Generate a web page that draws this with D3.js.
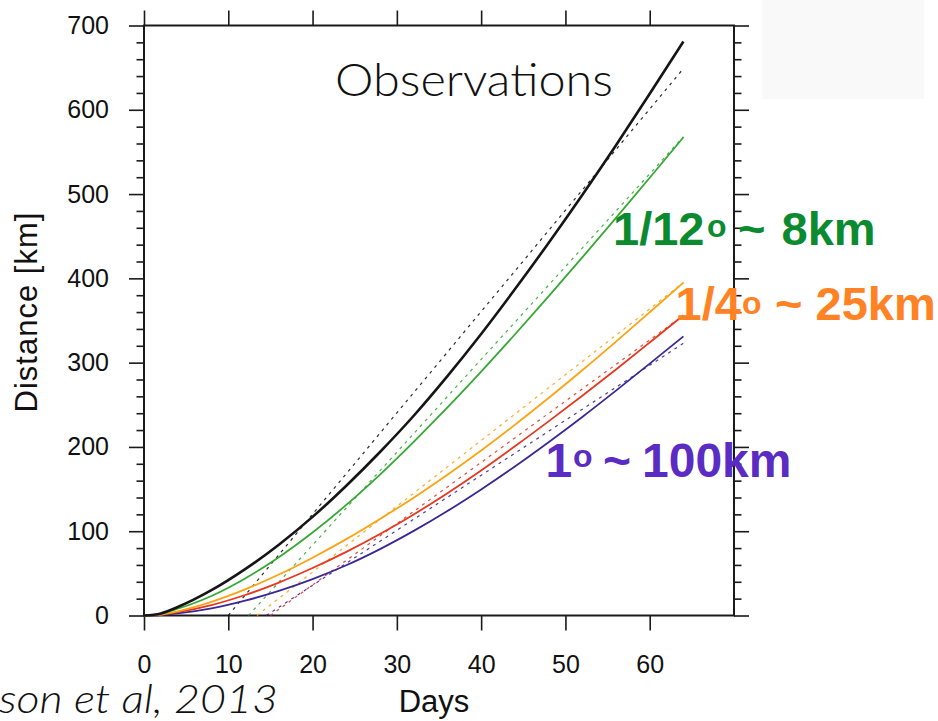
<!DOCTYPE html>
<html>
<head>
<meta charset="utf-8">
<script src="https://cdn.jsdelivr.net/npm/d3@7"></script>
<style>
  html, body { margin: 0; padding: 0; background: #fff; }
  svg { display: block; }
  .tick text { font-family: "Liberation Sans", Arial, Helvetica, sans-serif; }
</style>
</head>
<body>
<svg id="chart" width="938" height="721"></svg>
<script>
// Days at which the cumulative distance curves are sampled
const days = [0, 2, 4, 8, 12, 16, 20, 24, 28, 32, 36, 40, 44, 48, 52, 56, 60, 64];

// Cumulative distance [km] for each run
const observations = [0, 2.5, 10, 30, 55, 84, 117, 154, 194, 237, 284, 334, 387, 442, 499, 558, 619, 681];
const res12 = [0, 2, 8, 23.2, 44, 69.2, 98.4, 131.2, 167.2, 206, 246.8, 289.4, 333.4, 378.6, 424.8, 471.8, 519.4, 567.4];
const res4a = [0, 1.2, 5, 16.2, 31, 48.6, 68.6, 90.6, 114.6, 139.8, 167, 195.8, 226.2, 258, 291, 325, 359.8, 395];
const res4b = [0, 0.9, 3.9, 12.3, 24.3, 39.1, 56.3, 75.5, 96.7, 119.9, 145.1, 172.1, 200.7, 230.3, 260.7, 291.9, 323.9, 356.3];
const res1 = [0, 0.6, 2.4, 8.4, 17.6, 29.2, 43.2, 59.6, 78.8, 100.4, 124, 149.6, 176.8, 205.6, 235.6, 266.8, 298.8, 331.2];

// Linear fits: [start day, start km] and [end day, end km]
const fitObservations = [[10, 0], [64, 649]];
const fit12 = [[12.4, 0], [64, 568]];
const fit4a = [[13.4, 0], [64, 395]];
const fit4b = [[15, 0], [64, 356]];
const fit1 = [[14.5, 0], [64, 323]];

// Axis ticks
const xTicks = [0, 10, 20, 30, 40, 50, 60];
const yTicks = [0, 100, 200, 300, 400, 500, 600, 700];
const yMinor = d3.range(0, 701, 20).filter(v => v % 100 !== 0);

const series = [
  { values: res1, fit: fit1, color: "#3b2896", width: 1.8 },
  { values: res4b, fit: fit4b, color: "#e8371f", width: 1.8 },
  { values: res4a, fit: fit4a, color: "#fca311", width: 1.8 },
  { values: res12, fit: fit12, color: "#35a933", width: 1.8 },
  { values: observations, fit: fitObservations, color: "#151515", width: 2.6 }
];

const svg = d3.select("#chart");
const FONT = '"Liberation Sans", Arial, Helvetica, sans-serif';
const ROUND = 'Lato, "Open Sans", sans-serif';

const x = d3.scaleLinear().domain([0, 70]).range([144, 734]);
const y = d3.scaleLinear().domain([0, 700]).range([615.5, 25.5]);

// light grey panel in the top-right corner
svg.append("rect")
  .attr("x", 762).attr("y", 0).attr("width", 162).attr("height", 99)
  .attr("fill", "#f9f9f9");

// axes
function styleAxis(g) {
  g.selectAll("path.domain").remove();
  g.selectAll(".tick line").attr("stroke", "#1a1a1a").attr("stroke-width", 1.6);
  g.selectAll(".tick text").attr("font-size", 25).attr("fill", "#111");
}

svg.append("g").attr("transform", `translate(${x(0)},0)`)
  .call(d3.axisLeft(y).tickValues(yTicks).tickSize(15).tickPadding(20).tickFormat(d3.format("d")))
  .call(styleAxis);
svg.append("g").attr("transform", `translate(${x(0)},0)`)
  .call(d3.axisLeft(y).tickValues(yMinor).tickSize(7.5).tickFormat(""))
  .call(styleAxis);
svg.append("g").attr("transform", `translate(${x(70)},0)`)
  .call(d3.axisRight(y).tickValues(yTicks).tickSize(15).tickFormat(""))
  .call(styleAxis);
svg.append("g").attr("transform", `translate(${x(70)},0)`)
  .call(d3.axisRight(y).tickValues(yMinor).tickSize(7.5).tickFormat(""))
  .call(styleAxis);
svg.append("g").attr("transform", `translate(0,${y(0)})`)
  .call(d3.axisBottom(x).tickValues(xTicks).tickSize(15).tickPadding(24.5).tickFormat(d3.format("d")))
  .call(styleAxis);
svg.append("g").attr("transform", `translate(0,${y(700)})`)
  .call(d3.axisTop(x).tickValues(xTicks).tickSize(15).tickFormat(""))
  .call(styleAxis);

// frame
svg.append("rect")
  .attr("x", x(0)).attr("y", y(700))
  .attr("width", x(70) - x(0)).attr("height", y(0) - y(700))
  .attr("fill", "none").attr("stroke", "#1a1a1a").attr("stroke-width", 2);

// curves and their linear fits
const line = d3.line()
  .x(d => x(d[0])).y(d => y(d[1]))
  .curve(d3.curveMonotoneX);
const straight = d3.line().x(d => x(d[0])).y(d => y(d[1]));

const plot = svg.append("g");
series.forEach(s => {
  plot.append("path")
    .attr("d", straight(s.fit))
    .attr("fill", "none")
    .attr("stroke", s.color)
    .attr("stroke-width", 1.2)
    .attr("stroke-dasharray", "3,4.5")
    .attr("opacity", 0.9);
});
series.forEach(s => {
  plot.append("path")
    .attr("d", line(days.map((d, i) => [d, s.values[i]])))
    .attr("fill", "none")
    .attr("stroke", s.color)
    .attr("stroke-width", s.width)
    .attr("stroke-linejoin", "round");
});

// axis titles
svg.append("text")
  .attr("x", 434).attr("y", 712)
  .attr("text-anchor", "middle")
  .attr("font-family", FONT).attr("font-size", 31).attr("fill", "#111")
  .text("Days");
svg.append("text")
  .attr("transform", "translate(37,312.5) rotate(-90)")
  .attr("text-anchor", "middle")
  .attr("font-family", FONT).attr("font-size", 31).attr("fill", "#111")
  .attr("textLength", 200)
  .text("Distance [km]");

// in-plot title
svg.append("text")
  .attr("x", 335).attr("y", 96)
  .attr("font-family", ROUND)
  .attr("font-weight", 300)
  .attr("font-size", 45)
  .attr("textLength", 278).attr("lengthAdjust", "spacingAndGlyphs")
  .attr("fill", "#111")
  .text("Observations");

// resolution labels: head, raised "o", tilde and tail placed separately
function resLabel(color, size, base, parts) {
  const t = svg.append("text")
    .attr("font-family", FONT).attr("font-weight", "bold")
    .attr("font-size", size).attr("fill", color);
  t.append("tspan").attr("x", parts.head[0]).attr("y", base).text(parts.head[1]);
  t.append("tspan").attr("x", parts.deg).attr("y", base - parts.lift)
    .attr("font-size", 32).text("o");
  t.append("tspan").attr("x", parts.tilde).attr("y", base).text("~");
  t.append("tspan").attr("x", parts.tail[0]).attr("y", base).text(parts.tail[1]);
}
resLabel("#0b8a30", 47, 245, { head: [613, "1/12"], deg: 707, lift: 8, tilde: 738, tail: [781.5, "8km"] });
resLabel("#ff8224", 47, 320, { head: [675.5, "1/4"], deg: 742, lift: 6, tilde: 775, tail: [815.5, "25km"] });
resLabel("#5b2cc4", 48, 477, { head: [545.5, "1"], deg: 573, lift: 10, tilde: 603, tail: [642, "100km"] });

// citation
svg.append("text")
  .attr("x", -1).attr("y", 713)
  .attr("font-family", ROUND)
  .attr("font-style", "italic").attr("font-weight", 300)
  .attr("font-size", 39)
  .attr("textLength", 279).attr("lengthAdjust", "spacingAndGlyphs")
  .attr("fill", "#111")
  .text("son et al, 2013");
</script>
</body>
</html>
